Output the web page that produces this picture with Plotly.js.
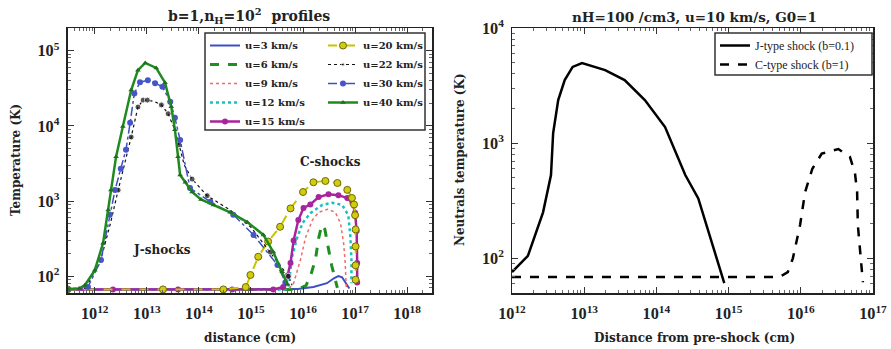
<!DOCTYPE html>
<html>
<head>
<meta charset="utf-8">
<script src="https://cdn.plot.ly/plotly-3.0.1.min.js"></script>
<style>html,body{margin:0;padding:0;background:#fff;}#chart{width:891px;height:349px;}</style>
</head>
<body>
<div id="chart"></div>
<script>
// ---------- Left panel data (log10 of distance in cm, temperature in K) ----------
const u3_logx  = [11.477, 15.5, 15.9, 16.2, 16.46, 16.6, 16.68, 16.75, 16.81, 16.89];
const u3_T     = [67, 67, 68, 72, 81, 95, 101, 97, 83, 69];

const u6_logx  = [11.477, 15.9, 16.06, 16.16, 16.24, 16.30, 16.36, 16.42, 16.48, 16.55, 16.62, 16.66];
const u6_T     = [67, 67, 76, 110, 170, 320, 480, 420, 250, 140, 90, 70];

const u9_logx  = [11.477, 15.72, 15.82, 15.95, 16.05, 16.18, 16.30, 16.47, 16.62, 16.72, 16.78, 16.81, 16.83];
const u9_T     = [67, 67, 81, 165, 330, 560, 710, 780, 710, 510, 275, 152, 72];

const u12_logx = [11.477, 15.65, 15.72, 15.79, 15.89, 15.99, 16.14, 16.37, 16.56, 16.75, 16.87, 16.91, 16.93, 16.93];
const u12_T    = [67, 67, 72, 182, 330, 510, 690, 890, 950, 890, 650, 330, 165, 81];

const u15_logx = [11.477, 12.35, 13.60, 14.64, 15.43, 15.62, 15.70, 15.76, 15.82, 15.91, 16.01, 16.14, 16.30, 16.49, 16.68, 16.85, 16.95, 17.0, 17.03, 17.04, 17.04];
const u15_T    = [67, 67, 67, 67, 67, 72, 100, 150, 300, 560, 810, 900, 1130, 1230, 1200, 1100, 940, 700, 400, 150, 83];

const u20_logx = [11.477, 13.31, 14.47, 14.90, 14.99, 15.14, 15.33, 15.56, 15.76, 16.0, 16.20, 16.43, 16.66, 16.85, 16.94, 16.98, 17.0, 17.01, 17.01, 17.01, 17.01];
const u20_T    = [67, 67, 67, 72, 104, 182, 290, 455, 800, 1320, 1780, 1850, 1740, 1410, 1100, 900, 650, 420, 250, 140, 90];

const u22_logx = [11.477, 11.83, 12.10, 12.30, 12.45, 12.58, 12.70, 12.83, 12.93, 13.01, 13.15, 13.28, 13.41, 13.52, 13.62, 13.72, 13.87, 14.16, 14.60, 15.00, 15.37, 15.60, 15.72, 15.79];
const u22_T    = [67, 72, 150, 500, 1400, 3200, 7100, 17800, 22000, 22000, 21000, 19000, 14500, 9500, 5600, 3000, 1960, 1180, 760, 450, 210, 130, 100, 76];
const u22_dot  = [0, 1, 0, 0, 1, 0, 1, 1, 1, 1, 0, 1, 1, 0, 1, 0, 1, 1, 0, 0, 1, 0, 1, 0];

const u30_logx = [11.477, 11.87, 12.12, 12.29, 12.39, 12.50, 12.60, 12.68, 12.76, 12.87, 13.02, 13.16, 13.30, 13.45, 13.54, 13.64, 13.83, 14.22, 14.66, 15.05, 15.51, 15.66];
const u30_T    = [67, 72, 165, 660, 1400, 2700, 4800, 11000, 27000, 38000, 40500, 37000, 33000, 21000, 12800, 6500, 1490, 980, 660, 355, 141, 83];

const u40_logx = [11.477, 11.70, 11.81, 12.0, 12.16, 12.26, 12.31, 12.41, 12.54, 12.70, 12.83, 12.97, 13.18, 13.35, 13.47, 13.54, 13.60, 13.64, 13.74, 13.87, 14.04, 14.28, 14.60, 14.93, 15.24, 15.43, 15.60, 15.70];
const u40_T    = [68, 69, 76, 120, 276, 760, 1400, 3900, 9800, 30000, 55000, 68600, 59000, 37500, 17900, 8900, 3900, 2220, 1780, 1320, 1050, 890, 710, 525, 355, 210, 115, 78];

// ---------- Right panel data ----------
const J_logx = [12.0, 12.22, 12.43, 12.54, 12.57, 12.64, 12.73, 12.84, 12.97, 13.29, 13.56, 13.84, 14.12, 14.40, 14.58, 14.71, 14.84, 14.94];
const J_T    = [76, 105, 251, 529, 1225, 2370, 3530, 4590, 4950, 4310, 3530, 2370, 1380, 529, 331, 182, 100, 61];

const C_logx = [12.0, 15.71, 15.82, 15.89, 15.99, 16.06, 16.16, 16.29, 16.52, 16.68, 16.75, 16.78, 16.79, 16.83, 16.86];
const C_T    = [69, 69, 76, 100, 195, 377, 600, 811, 889, 760, 550, 377, 195, 100, 62];

const legendLeft = ['u=3 km/s','u=6 km/s','u=9 km/s','u=12 km/s','u=15 km/s','u=20 km/s','u=22 km/s','u=30 km/s','u=40 km/s'];
const legendRight = ['J-type shock (b=0.1)', 'C-type shock (b=1)'];

const P = v => v.map(e => Math.pow(10, e));
const SERIF = 'DejaVu Serif, Liberation Serif, serif';
const TSERIF = 'Liberation Serif, DejaVu Serif, serif';

const traces = [
  {x:P(u3_logx), y:u3_T, name:legendLeft[0], legend:'legend', mode:'lines',
   line:{color:'#3d4fc4', width:2}},
  {x:P(u6_logx), y:u6_T, name:legendLeft[1], legend:'legend', mode:'lines',
   line:{color:'#1f8f1f', width:3, dash:'dash'}},
  {x:P(u9_logx), y:u9_T, name:legendLeft[2], legend:'legend', mode:'lines',
   line:{color:'#f06a6a', width:1.5, dash:'dot'}},
  {x:P(u12_logx), y:u12_T, name:legendLeft[3], legend:'legend', mode:'lines',
   line:{color:'#18c0c0', width:2.5, dash:'dot'}},
  {x:P(u15_logx), y:u15_T, name:legendLeft[4], legend:'legend', mode:'lines+markers',
   line:{color:'#a8239e', width:2.5}, marker:{symbol:'circle', size:6, color:'#a8239e'}},
  {x:P(u20_logx), y:u20_T, name:legendLeft[5], legend:'legend3', mode:'lines+markers',
   line:{color:'#c9c400', width:2, dash:'dash'},
   marker:{symbol:'circle', size:7, color:'#d0cc10', line:{color:'#6f6a00', width:1}}},
  {x:P(u22_logx), y:u22_T, name:legendLeft[6], legend:'legend3', mode:'lines+markers',
   line:{color:'#111', width:1.2, dash:'dot'},
   marker:{symbol:'circle', size:u22_dot.map(d => d ? 6 : 0), color:'#111'}},
  {x:P(u30_logx), y:u30_T, name:legendLeft[7], legend:'legend3', mode:'lines+markers',
   line:{color:'#3d4fc4', width:1.5, dash:'dashdot'}, marker:{symbol:'circle', size:6, color:'#4656c8'}},
  {x:P(u40_logx), y:u40_T, name:legendLeft[8], legend:'legend3', mode:'lines+markers',
   line:{color:'#1f8a1f', width:2.5}, marker:{symbol:'triangle-up', size:5, color:'#1f6f1f'}},
  {x:P(J_logx), y:J_T, name:legendRight[0], mode:'lines', xaxis:'x2', yaxis:'y2', legend:'legend2',
   line:{color:'#000', width:2.5}},
  {x:P(C_logx), y:C_T, name:legendRight[1], mode:'lines', xaxis:'x2', yaxis:'y2', legend:'legend2',
   line:{color:'#000', width:2.5, dash:'dash'}}
];

const W = 891, H = 349;
const px = x => x / W, py = y => (H - y) / H;

const axisCommon = {
  type:'log', showline:true, linecolor:'#222', linewidth:1.5, mirror:'ticks',
  ticks:'inside', ticklen:6, tickwidth:1, tickcolor:'#333', showgrid:false, zeroline:false,
  dtick:1, exponentformat:'power', automargin:false,
  tickfont:{family:TSERIF, size:13, color:'#222', weight:'bold'},
  minor:{ticks:'inside', ticklen:3, tickcolor:'#666', showgrid:false}
};

const ann = (text, x, y, size, extra) => Object.assign({
  text:text, x:px(x), y:py(y), xref:'paper', yref:'paper', xanchor:'center', yanchor:'middle',
  showarrow:false, font:{family:SERIF, size:size, color:'#222', weight:'bold'}}, extra || {});

const legBase = {xref:'container', yref:'container', xanchor:'left', yanchor:'top',
  bgcolor:'rgba(0,0,0,0)', borderwidth:0, traceorder:'normal'};

const layout = {
  width:W, height:H, margin:{l:0, r:0, t:0, b:0, autoexpand:false},
  paper_bgcolor:'#fff', plot_bgcolor:'#fff', showlegend:true,
  xaxis: Object.assign({}, axisCommon, {domain:[px(67.5), px(432)], anchor:'y', ticklabelstandoff:6,
          range:[Math.log10(3e11), Math.log10(3e18)]}),
  yaxis: Object.assign({}, axisCommon, {domain:[py(293), py(28)], anchor:'x', ticklabelstandoff:4,
          range:[Math.log10(60), Math.log10(2e5)]}),
  xaxis2: Object.assign({}, axisCommon, {domain:[px(512), px(873)], anchor:'y2', ticklabelstandoff:6, range:[12, 17]}),
  yaxis2: Object.assign({}, axisCommon, {domain:[py(293), py(28)], anchor:'x2', ticklabelstandoff:4,
          range:[Math.log10(50), 4]}),
  legend: Object.assign({}, legBase, {x:px(205), y:py(31),
          font:{family:SERIF, size:10, color:'#222', weight:'bold'}}),
  legend3: Object.assign({}, legBase, {x:px(323), y:py(31),
          font:{family:SERIF, size:10, color:'#222', weight:'bold'}}),
  legend2: Object.assign({}, legBase, {x:px(715), y:py(31),
          font:{family:TSERIF, size:12, color:'#222'}}),
  shapes:[
    {type:'rect', xref:'paper', yref:'paper', x0:px(205), x1:px(425), y0:py(130), y1:py(33),
     fillcolor:'#fff', line:{color:'#333', width:1.5}, layer:'above'},
    {type:'rect', xref:'paper', yref:'paper', x0:px(715), x1:px(872), y0:py(75), y1:py(33),
     fillcolor:'#fff', line:{color:'#333', width:1.5}, layer:'above'}
  ],
  annotations:[
    ann('b=1,n<sub>H</sub>=10<sup>2</sup>  profiles', 249, 16, 14),
    ann('nH=100 /cm3, u=10 km/s, G0=1', 694, 17, 13.5),
    ann('distance (cm)', 250, 338, 12),
    ann('Distance from pre-shock (cm)', 694, 338, 12),
    ann('Temperature (K)', 16, 160, 12, {textangle:-90}),
    ann('Neutrals temperature (K)', 460, 160, 12, {textangle:-90}),
    ann('C-shocks', 330, 162, 12),
    ann('J-shocks', 162, 250, 12)
  ]
};

Plotly.newPlot('chart', traces, layout, {displayModeBar:false, staticPlot:true});
</script>
</body>
</html>
